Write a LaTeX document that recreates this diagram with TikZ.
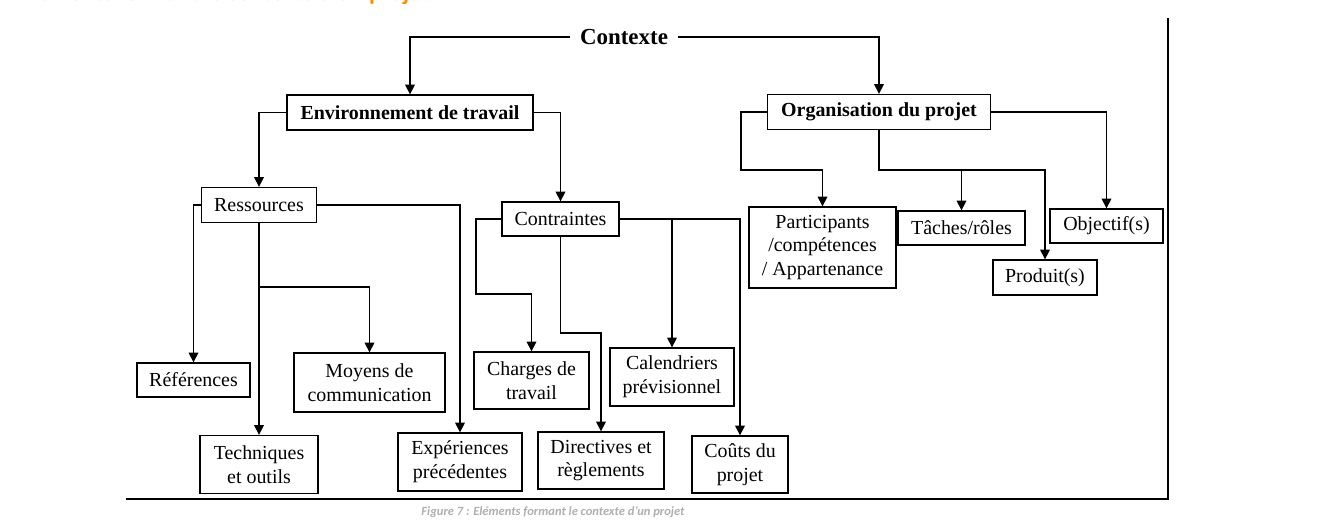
\documentclass[tikz,border=0pt]{standalone}
\usepackage{fontspec}
\setmainfont{Liberation Serif}
\newfontfamily\calibri{Carlito}
\usetikzlibrary{arrows.meta}
\definecolor{titreorange}{RGB}{255,140,0}
\definecolor{legende}{RGB}{175,175,175}
\newcommand{\px}{0.567pt}
\newcommand{\boxfont}{\fontsize{11.3}{13.5}\selectfont}

\begin{document}
\begin{tikzpicture}[x=\px, y=-\px, ->, >={Triangle[length=5.5pt,width=5.5pt]}, line width=0.75pt,
  bloc/.style={draw, font=\boxfont, align=center, inner sep=1pt},
  titre/.style={bloc, font=\boxfont\bfseries},
  sz/.style 2 args={minimum width=#1*\px, minimum height=#2*\px}]
\useasboundingbox (0,0) rectangle (1323,522);

\node[anchor=base west, inner sep=0pt, font=\calibri\bfseries\fontsize{13.6}{16}\selectfont, text=titreorange] (ttl) at (20,0.4) {Eléments formant le contexte d’un projet};

\node[font=\fontsize{13}{15}\selectfont\bfseries, inner xsep=5.5pt] (ctx) at (624,37) {Contexte};
\node[titre, sz={246}{35}] (env) at (410,112.5) {Environnement de travail};
\node[titre, sz={223}{35}] (org) at (879,112) {Organisation du projet};

\node[bloc, sz={115}{35}] (res) at (259,205) {Ressources};
\node[bloc, sz={117}{34}] (con) at (560.5,219) {Contraintes};
\node[bloc, sz={147}{81}] (par) at (822.5,247.5) {Participants\\/compétences\\/ Appartenance};
\node[bloc, sz={127}{34}] (tac) at (961.5,228) {Tâches/rôles};
\node[bloc, sz={113}{34}] (obj) at (1106.5,226) {Objectif(s)};
\node[bloc, sz={104}{35}] (pro) at (1045,277.5) {Produit(s)};

\node[bloc, sz={113}{34}] (ref) at (193.5,380) {Références};
\node[bloc, sz={151}{59}] (moy) at (369.5,382.5) {Moyens de\\communication};
\node[bloc, sz={118}{58}] (tec) at (259,464.5) {Techniques\\et outils};
\node[bloc, sz={124}{58}] (exp) at (460,462) {Expériences\\précédentes};
\node[bloc, sz={115}{57}] (cha) at (531.5,380.5) {Charges de\\travail};
\node[bloc, sz={124}{58}] (cal) at (672,377) {Calendriers\\prévisionnel};
\node[bloc, sz={126}{57}] (dir) at (601,460.5) {Directives et\\règlements};
\node[bloc, sz={96}{57}] (cou) at (740,464.5) {Coûts du\\projet};

\coordinate (rb) at (259,287);
\coordinate (c1) at (476,294);
\coordinate (c2) at (601,333);
\coordinate (o1) at (741,170);
\coordinate (o2) at (1045,170);

\draw (ctx.west) -| (env.north);
\draw (ctx.east) -| (org.north);

\draw (env.west) -| (res.north);
\draw (env.east) -| (con.north);

\draw (res.west) -| (ref.north);
\draw (res.south) -- (tec.north);
\draw (rb) -| (moy.north);
\draw (res.east) -| (exp.north);

\draw (con.west) -| (c1) -| (cha.north);
\draw (con.south) |- (c2) -- (dir.north);
\draw (con.east) -| (cou.north);
\draw (cal.north |- con.east) -- (cal.north);

\draw (org.west) -| (o1) -| (par.north);
\draw (org.south) |- (o2) -- (pro.north);
\draw (tac.north |- o2) -- (tac.north);
\draw (org.east) -| (obj.north);

\draw[-] (126,499) -- (1168,499) -- (1168,18);

\node[font=\calibri\bfseries\itshape\fontsize{7.1}{8.5}\selectfont, text=legende] (leg) at (553,512) {Figure 7 : Eléments formant le contexte d’un projet};
\end{tikzpicture}
\end{document}
